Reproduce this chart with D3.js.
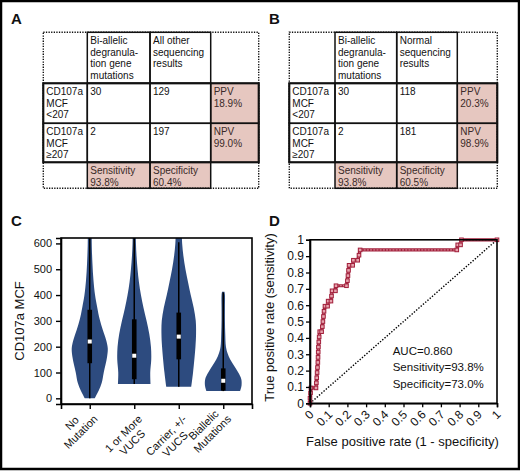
<!DOCTYPE html>
<html><head><meta charset="utf-8">
<script src="https://cdn.jsdelivr.net/npm/d3@7"></script>
<style>
body{margin:0;background:#fff}
svg{display:block}
text{font-family:"Liberation Sans",Arial,Helvetica,sans-serif;fill:#111}
</style>
</head><body>
<svg id="fig" width="520" height="472"></svg>
<script>
// ---------------- DATA ----------------
const headersA = ["Bi-allelic\ndegranula-\ntion gene\nmutations", "All other\nsequencing\nresults"];
const headersB = ["Bi-allelic\ndegranula-\ntion gene\nmutations", "Normal\nsequencing\nresults"];
const rowLabels = ["CD107a\nMCF\n<207", "CD107a\nMCF\n\u2265207"];
const countsA = [[30, 129], [2, 197]];
const countsB = [[30, 118], [2, 181]];
const predictiveA = ["PPV\n18.9%", "NPV\n99.0%"];
const predictiveB = ["PPV\n20.3%", "NPV\n98.9%"];
const accuracyA = ["Sensitivity\n93.8%", "Specificity\n60.4%"];
const accuracyB = ["Sensitivity\n93.8%", "Specificity\n60.5%"];

const violinCategories = ["No\nMutation", "1 or More\nVUCS", "Carrier, +/-\nVUCS", "Biallelic\nMutations"];
const violinTicks = [0, 100, 200, 300, 400, 500, 600];
// density profiles: [CD107a MCF value, relative density]
const densityNoMutation = [[0,0.25],[30,0.45],[60,0.6],[100,0.7],[160,0.865],[195,0.9],[227,0.815],[266,0.65],[305,0.5],[356,0.365],[400,0.265],[458,0.185],[522,0.135],[600,0.1],[650,0.1]];
const densityVUCS = [[55,0.815],[100,0.8],[150,0.85],[200,0.835],[250,0.75],[300,0.615],[350,0.465],[400,0.335],[450,0.235],[500,0.165],[550,0.115],[600,0.085],[650,0.08]];
const densityCarrier = [[45,0.625],[100,0.715],[200,0.835],[250,0.865],[300,0.85],[350,0.75],[400,0.6],[450,0.465],[500,0.335],[550,0.235],[600,0.17],[650,0.15]];
const densityBiallelic = [[28,0.84],[50,0.915],[75,0.9],[100,0.75],[125,0.55],[150,0.35],[175,0.215],[200,0.135],[250,0.1],[300,0.085],[350,0.085],[400,0.085],[413,0.06]];
// [whisker low, Q1, median, Q3, whisker high]
const boxStats = [[0,136,220,343,650],[55,74,165,306,650],[45,151,239,332,605],[28,30,68,116,410]];

const rocTicks = [0,0.1,0.2,0.3,0.4,0.5,0.6,0.7,0.8,0.9,1];
const rocTickLabels = ["0","0.1","0.2","0.3","0.4","0.5","0.6","0.7","0.8","0.9","1"];
const rocPoints = [[0,0],[0,0.031],[0.003,0.063],[0.005,0.094],[0.032,0.094],[0.034,0.125],[0.036,0.156],[0.038,0.188],[0.040,0.219],[0.042,0.25],[0.043,0.281],[0.044,0.313],[0.045,0.344],[0.047,0.375],[0.049,0.406],[0.052,0.438],[0.062,0.438],[0.066,0.469],[0.069,0.5],[0.072,0.531],[0.075,0.563],[0.080,0.594],[0.094,0.594],[0.097,0.625],[0.112,0.625],[0.115,0.656],[0.118,0.688],[0.136,0.688],[0.139,0.719],[0.195,0.719],[0.200,0.75],[0.203,0.781],[0.206,0.813],[0.209,0.844],[0.228,0.844],[0.232,0.875],[0.255,0.875],[0.262,0.906],[0.268,0.938],[0.785,0.938],[0.79,0.969],[0.805,0.969],[0.81,1],[1,1]];
const rocStats = ["AUC=0.860", "Sensitivity=93.8%", "Specificity=73.0%"];

// ---------------- DRAW ----------------
const svg = d3.select("#fig");
const FONT = '"Liberation Sans",Arial,Helvetica,sans-serif';
const SHADE = "#e6c7c0";

// outer frame
svg.append("rect").attr("x",1).attr("y",1).attr("width",518).attr("height",468)
  .attr("fill","none").attr("stroke","#000").attr("stroke-width",2.5);

// panel letters
[["A",11,24],["B",269,24],["C",11,226],["D",269,226]].forEach(([t,x,y])=>{
  svg.append("text").attr("x",x).attr("y",y).attr("font-size",15).attr("font-weight","bold").text(t);
});

function multiline(g, str, x, y, lh, size){
  const t = g.append("text").attr("font-size",size);
  str.split("\n").forEach((s,i)=>{
    t.append("tspan").attr("x",x).attr("y",y + i*lh).text(s);
  });
  return t;
}

function drawTable(xs, ys, headers, counts, predictive, accuracy){
  const g = svg.append("g");
  const cells = [];
  // row 0: headers
  cells.push({c:1,r:0,t:headers[0],solid:true});
  cells.push({c:2,r:0,t:headers[1],solid:true});
  for(let r=0;r<2;r++){
    cells.push({c:0,r:r+1,t:rowLabels[r],solid:true});
    cells.push({c:1,r:r+1,t:String(counts[r][0]),solid:true});
    cells.push({c:2,r:r+1,t:String(counts[r][1]),solid:true});
    cells.push({c:3,r:r+1,t:predictive[r],solid:true,shade:true});
  }
  cells.push({c:1,r:3,t:accuracy[0],solid:true,shade:true});
  cells.push({c:2,r:3,t:accuracy[1],solid:true,shade:true});
  // shading
  cells.filter(d=>d.shade).forEach(d=>{
    g.append("rect").attr("x",xs[d.c]).attr("y",ys[d.r])
      .attr("width",xs[d.c+1]-xs[d.c]).attr("height",ys[d.r+1]-ys[d.r]).attr("fill",SHADE);
  });
  // dotted outer
  g.append("rect").attr("x",xs[0]).attr("y",ys[0]).attr("width",xs[4]-xs[0]).attr("height",ys[4]-ys[0])
    .attr("fill","none").attr("stroke","#111").attr("stroke-width",1.4).attr("stroke-dasharray","1.3,1.3");
  // solid cells
  cells.forEach(d=>{
    g.append("rect").attr("x",xs[d.c]).attr("y",ys[d.r])
      .attr("width",xs[d.c+1]-xs[d.c]).attr("height",ys[d.r+1]-ys[d.r])
      .attr("fill","none").attr("stroke","#111").attr("stroke-width",1.5);
  });
  g.append("rect").attr("x",xs[0]).attr("y",ys[1]).attr("width",xs[4]-xs[0]).attr("height",ys[3]-ys[1])
    .attr("fill","none").attr("stroke","#111").attr("stroke-width",2);
  // text
  cells.forEach(d=>{
    const t = multiline(g, d.t, xs[d.c]+3, ys[d.r]+11.6, 11.6, 10);
    if(d.shade) t.style("fill","#3a2a28");
  });
}
const tableYs = [32.3, 83.3, 123.3, 162.3, 188.3];
drawTable([43.3, 87.3, 150, 210.7, 258.7], tableYs, headersA, countsA, predictiveA, accuracyA);
drawTable([289.3, 335, 396.7, 457.3, 497.3], tableYs, headersB, countsB, predictiveB, accuracyB);

// ---------------- Panel C: violins ----------------
const cL = 61, cR = 252, cT = 238, cB = 404;
const xC = d3.scalePoint().domain(violinCategories).range([cL, cR]).padding(0.646);
const yC = d3.scaleLinear().domain([-22, 621]).range([cB, cT]);
const wC = d3.scaleLinear().domain([0, 1]).range([0, 20]);
const densities = [densityNoMutation, densityVUCS, densityCarrier, densityBiallelic];

svg.append("clipPath").attr("id","clipC").append("rect")
  .attr("x",cL).attr("y",cT).attr("width",cR-cL).attr("height",cB-cT);
const gv = svg.append("g").attr("clip-path","url(#clipC)");
violinCategories.forEach((cat,i)=>{
  const cx = xC(cat);
  const area = d3.area().curve(d3.curveCatmullRom)
    .y(d=>yC(d[0])).x0(d=>cx - wC(d[1])).x1(d=>cx + wC(d[1]));
  gv.append("path").attr("d", area(densities[i])).attr("fill","#2d4b7f");
  const s = boxStats[i];
  gv.append("line").attr("x1",cx).attr("x2",cx).attr("y1",yC(s[0])).attr("y2",yC(s[4]))
    .attr("stroke","#000").attr("stroke-width",1.5);
  gv.append("rect").attr("x",cx-2.3).attr("width",4.6).attr("y",yC(s[3])).attr("height",yC(s[1])-yC(s[3]))
    .attr("fill","#000");
  gv.append("rect").attr("x",cx-2).attr("y",yC(s[2])-2).attr("width",4).attr("height",4).attr("fill","#fff");
});
svg.append("rect").attr("x",cL).attr("y",cT).attr("width",cR-cL).attr("height",cB-cT)
  .attr("fill","none").attr("stroke","#000").attr("stroke-width",1.6);
const ayC = svg.append("g").attr("transform",`translate(${cL},0)`)
  .call(d3.axisLeft(yC).tickValues(violinTicks).tickSize(5).tickPadding(4).tickFormat(d3.format("d")));
ayC.selectAll("text").attr("font-size",11).attr("font-family",FONT).style("fill","#111");
ayC.selectAll("line").attr("stroke","#000").attr("stroke-width",1.4);
ayC.select(".domain").attr("stroke","#000").attr("stroke-width",1.6);
const axC = svg.append("g").attr("transform",`translate(0,${cB})`)
  .call(d3.axisBottom(xC).tickSize(5).tickFormat(""));
axC.selectAll("line").attr("stroke","#000").attr("stroke-width",1.4);
axC.select(".domain").attr("stroke","#000").attr("stroke-width",1.6);
// rotated two-line category labels
violinCategories.forEach(cat=>{
  const lines = cat.split("\n");
  const g = svg.append("g").attr("transform",`translate(${xC(cat)+3},${414}) rotate(-45)`);
  const tmp = lines.map(s=>{
    const t = g.append("text").attr("font-size",11).attr("text-anchor","middle").text(s);
    return t;
  });
  const widths = tmp.map(t=>t.node().getComputedTextLength());
  const maxW = d3.max(widths);
  const k = widths.indexOf(maxW);
  tmp.forEach((t,i)=>t.attr("x",-maxW/2).attr("y",8 + (i-k)*12.5));
});
svg.append("text").attr("transform","translate(24,321) rotate(-90)").attr("text-anchor","middle")
  .attr("font-size",13).text("CD107a MCF");

// ---------------- Panel D: ROC ----------------
const dL = 310, dR = 497, dT = 239.8, dB = 403.3;
const xD = d3.scaleLinear().domain([0,1]).range([dL,dR]);
const yD = d3.scaleLinear().domain([0,1]).range([dB,dT]);
// diagonal
svg.append("line").attr("x1",xD(0)).attr("y1",yD(0)).attr("x2",xD(1)).attr("y2",yD(1))
  .attr("stroke","#000").attr("stroke-width",1.4).attr("stroke-dasharray","1.4,1.6");
const line = d3.line().x(d=>xD(d[0])).y(d=>yD(d[1]));
svg.append("path").attr("d",line(rocPoints)).attr("fill","none").attr("stroke","#a2203c").attr("stroke-width",3.2);
svg.append("path").attr("d",line(rocPoints)).attr("fill","none").attr("stroke","#e3a0aa").attr("stroke-width",0.9)
  .attr("stroke-dasharray","2,1.2");
svg.append("g").selectAll("rect").data(rocPoints).join("rect")
  .attr("x",d=>xD(d[0])-1.8).attr("y",d=>yD(d[1])-1.8).attr("width",3.6).attr("height",3.6)
  .attr("fill","#e6a3ad").attr("stroke","#a2203c").attr("stroke-width",1);
svg.append("rect").attr("x",dL).attr("y",dT).attr("width",dR-dL).attr("height",dB-dT)
  .attr("fill","none").attr("stroke","#000").attr("stroke-width",1.6);
const ayD = svg.append("g").attr("transform",`translate(${dL},0)`)
  .call(d3.axisLeft(yD).tickValues(rocTicks).tickSize(4).tickPadding(2).tickFormat((d,i)=>rocTickLabels[i]));
ayD.selectAll("text").attr("font-size",12).attr("font-family",FONT).style("fill","#111");
ayD.selectAll("line").attr("stroke","#000").attr("stroke-width",1.3);
ayD.select(".domain").attr("stroke","#000").attr("stroke-width",1.6);
const axD = svg.append("g").attr("transform",`translate(0,${dB})`)
  .call(d3.axisBottom(xD).tickValues(rocTicks).tickSize(4).tickFormat((d,i)=>rocTickLabels[i]));
axD.selectAll("text").attr("font-size",12).attr("font-family",FONT).style("fill","#111")
  .attr("x",0).attr("y",0).attr("dy",0).attr("text-anchor","end")
  .attr("transform","translate(4,12) rotate(-45)");
axD.selectAll("line").attr("stroke","#000").attr("stroke-width",1.3);
axD.select(".domain").attr("stroke","#000").attr("stroke-width",1.6);
svg.append("text").attr("transform","translate(273.5,317.5) rotate(-90)").attr("text-anchor","middle")
  .attr("font-size",13).text("True positive rate (sensitivity)");
svg.append("text").attr("x",402.5).attr("y",446).attr("text-anchor","middle")
  .attr("font-size",13).text("False positive rate (1 - specificity)");
rocStats.forEach((s,i)=>{
  svg.append("text").attr("x",392.7).attr("y",354.5 + i*16.5).attr("font-size",11.5).text(s);
});
</script>
</body></html>
